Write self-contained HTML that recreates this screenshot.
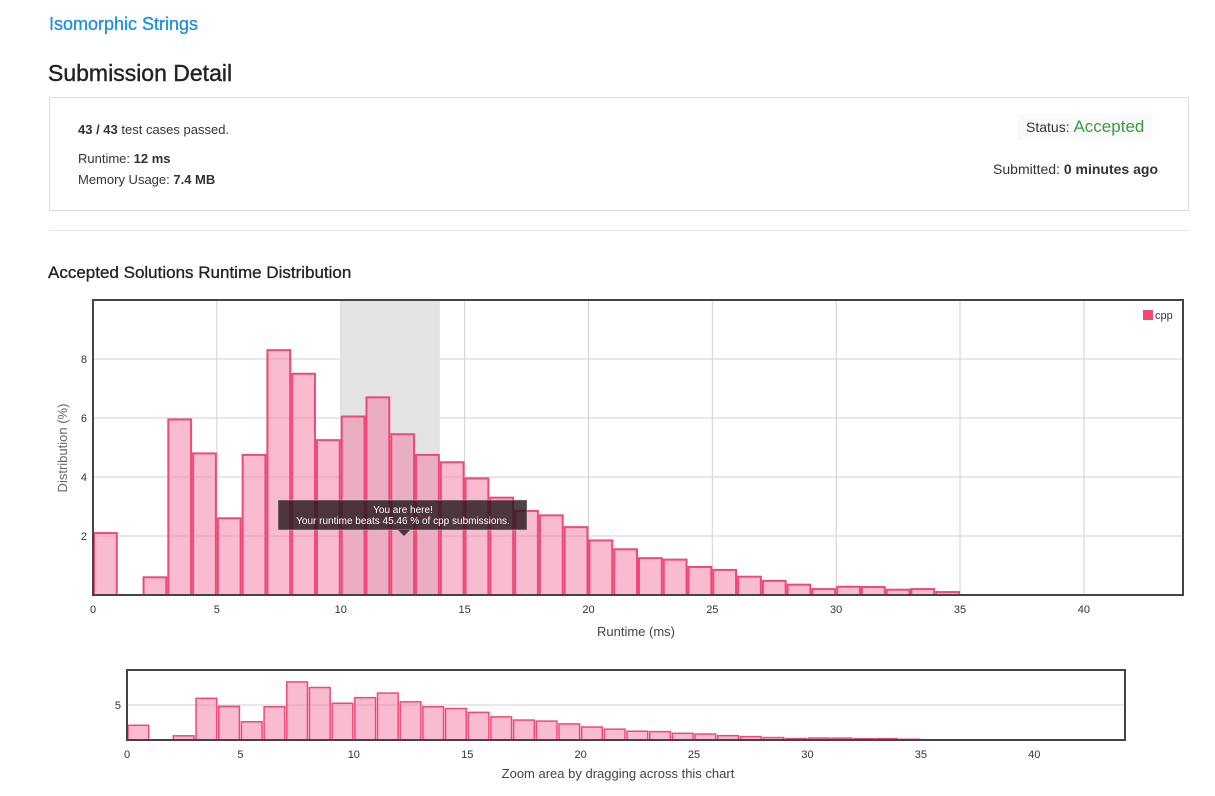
<!DOCTYPE html>
<html><head><meta charset="utf-8">
<style>
body{margin:0;background:#fff;font-family:"Liberation Sans",Arial,sans-serif;color:#333;}
#wrap{position:relative;width:1215px;height:796px;overflow:hidden;}
.a{position:absolute;}
</style></head>
<body><div id="wrap">
<div class="a" style="left:49px;top:14px;font-size:18px;color:#1a8fe3;-webkit-text-stroke:0.3px #1a8fe3">Isomorphic Strings</div>
<div class="a" style="left:48px;top:60px;font-size:23px;color:#222;-webkit-text-stroke:0.4px #222">Submission Detail</div>
<div class="a" style="left:49px;top:97px;width:1138px;height:112px;border:1px solid #ddd">
 <div class="a" style="left:28px;top:24px;font-size:13px"><b>43 / 43</b> test cases passed.</div>
 <div class="a" style="left:28px;top:53px;font-size:13px">Runtime: <b>12 ms</b></div>
 <div class="a" style="left:28px;top:74px;font-size:13px">Memory Usage: <b>7.4 MB</b></div>
 <div class="a" style="left:968px;top:16px;padding:3px 8px;background:#fafafa;font-size:14px">Status: <span style="color:#3c9a3c;font-size:17px">Accepted</span></div>
 <div class="a" style="right:30px;top:63px;font-size:14px">Submitted: <b>0 minutes ago</b></div>
</div>
<div class="a" style="left:49px;top:230px;width:1140px;height:1px;background:#e5e5e5"></div>
<div class="a" style="left:48px;top:263px;font-size:17px;color:#222;-webkit-text-stroke:0.3px #222">Accepted Solutions Runtime Distribution</div>
<svg id="chart" class="a" style="left:0;top:0" width="1215" height="796"></svg>
</div>
<script>
const categories=[0,1,2,3,4,5,6,7,8,9,10,11,12,13,14,15,16,17,18,19,20,21,22,23,24,25,26,27,28,29,30,31,32,33,34];
const values=[2.1,0,0.6,5.95,4.8,2.6,4.75,8.3,7.5,5.25,6.05,6.7,5.45,4.75,4.5,3.95,3.3,2.85,2.7,2.3,1.85,1.55,1.25,1.2,0.95,0.85,0.62,0.48,0.35,0.2,0.28,0.27,0.18,0.2,0.1];
const xTicks=[0,5,10,15,20,25,30,35,40];
const yTicks=[2,4,6,8];
const yTicksMini=[5];
const highlightRange=[10,14];
const NS="http://www.w3.org/2000/svg";
const svg=document.getElementById('chart');
function mk(t,a,p){const e=document.createElementNS(NS,t);for(const k in a)e.setAttribute(k,a[k]);(p||svg).appendChild(e);return e;}
function drawChart(L,T,W,H,xmax,ymax,yt,main){
 const x=v=>L+v/xmax*W, y=v=>T+H-v/ymax*H;
 const g=mk('g',{});
 
 
 xTicks.forEach(t=>{
  if(main){const l=mk('line',{x1:x(t),x2:x(t),y1:T,y2:T+H,stroke:'#d2d2d2'},g);}
  const tx=mk('text',{x:x(t),y:T+H+18,'font-size':11,'text-anchor':'middle',fill:'#333'},g);tx.textContent=t;
  
 });
 yt.forEach(t=>{
  const l=mk('line',{x1:L,x2:L+W,y1:y(t),y2:y(t),stroke:'#d2d2d2'},g);
  const tx=mk('text',{x:L-6,y:y(t)+4,'font-size':11,'text-anchor':'end',fill:'#333'},g);tx.textContent=t;
  
 });
 if(main){const r=mk('rect',{x:x(highlightRange[0]),y:T,width:x(highlightRange[1])-x(highlightRange[0]),height:H,fill:'#e3e3e3'},g);
  }
 categories.forEach((c,i)=>{ if(!values[i])return;
  const r=mk('rect',{x:x(c)+1,y:y(values[i]),width:x(c+1)-x(c)-2,height:y(0)-y(values[i]),fill:'rgba(244,120,160,0.5)',stroke:'#ee4a78','stroke-width':main?2:1.5},g);
  
 });
 const f=mk('rect',{x:L,y:T,width:W,height:H,fill:'none',stroke:'#444','stroke-width':2},g);
 
 return {x,y};
}
const m=drawChart(93,300,1090,295,44,10,yTicks,true);
drawChart(127,670,998,70,44,10,yTicksMini,false);
let t=mk('text',{x:636,y:636,'font-size':13,'text-anchor':'middle',fill:'#444'});t.textContent='Runtime (ms)';

t=mk('text',{x:67,y:448,'font-size':13,'text-anchor':'middle',fill:'#666',transform:'rotate(-90 67 448)'});t.textContent='Distribution (%)';

t=mk('text',{x:618,y:778,'font-size':13,'text-anchor':'middle',fill:'#444'});t.textContent='Zoom area by dragging across this chart';

const lg=mk('rect',{x:1143,y:310,width:10,height:10,fill:'#ee4a78'});
t=mk('text',{x:1155,y:319,'font-size':11,fill:'#333'});t.textContent='cpp';
const tip=mk('g',{});
mk('rect',{x:278,y:500,width:249,height:30,fill:'rgba(40,25,30,0.82)',stroke:'#ccc','stroke-width':0.5},tip);
mk('polygon',{points:'398,530 410,530 404,536',fill:'rgba(40,25,30,0.82)'},tip);
t=mk('text',{x:403,y:513,'font-size':10,'text-anchor':'middle',fill:'#fff'},tip);t.textContent='You are here!';
t=mk('text',{x:403,y:524,'font-size':10,'text-anchor':'middle',fill:'#fff'},tip);t.textContent='Your runtime beats 45.46 % of cpp submissions.';
</script>
</body></html>
